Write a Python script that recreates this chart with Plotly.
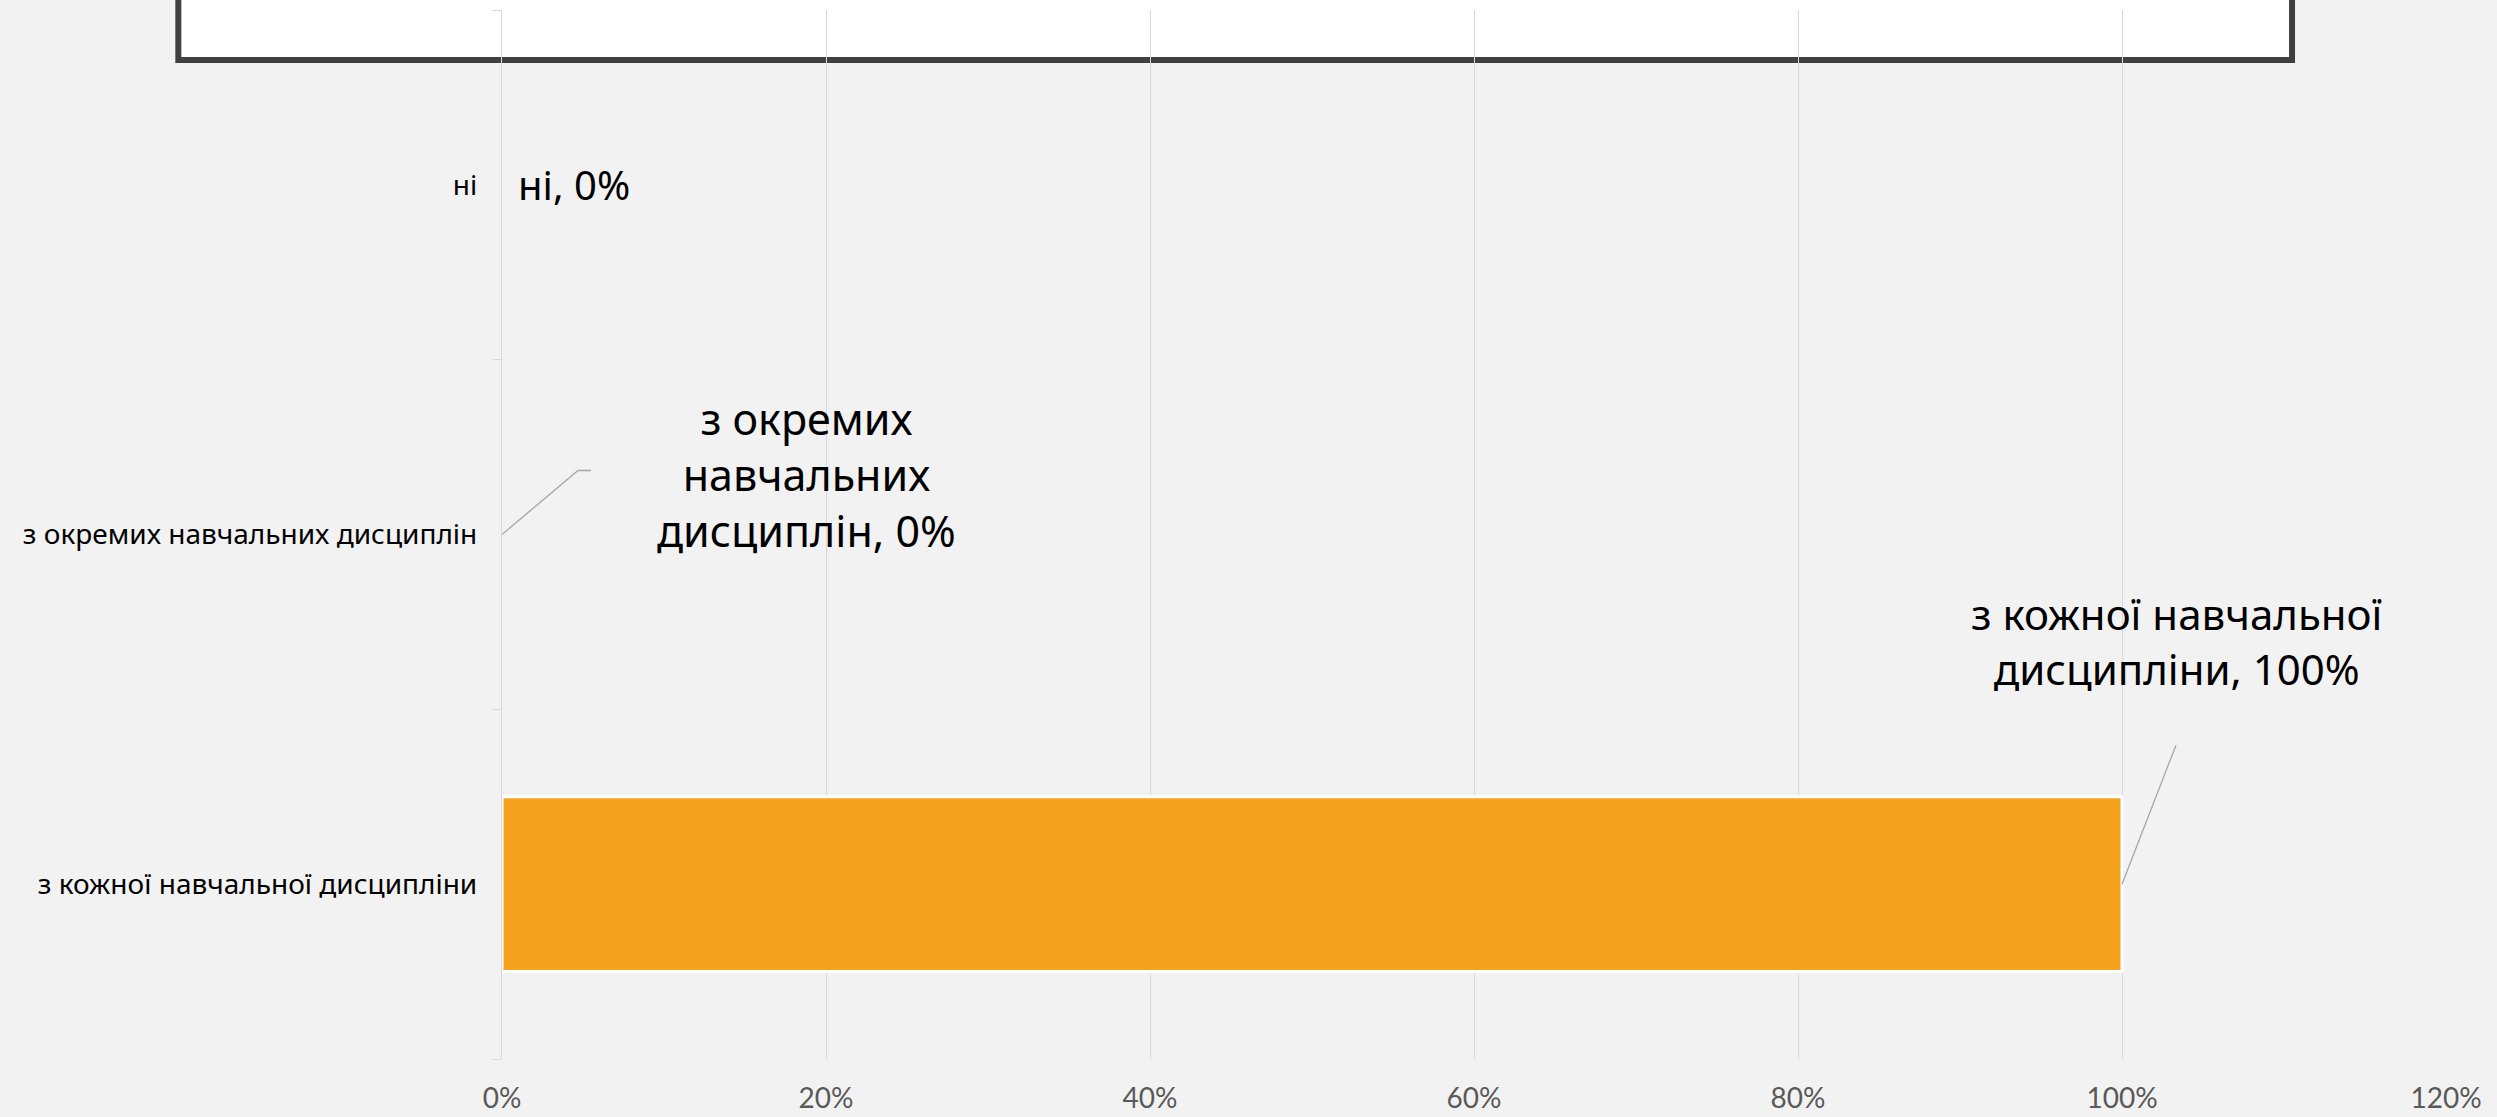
import plotly.graph_objects as go

# ---- data (top-to-bottom order as shown) ----
categories = ["ні", "з окремих навчальних дисциплін", "з кожної навчальної дисципліни"]
values = [0.0, 0.0, 1.0]
label_names = ["ні", "з окремих<br>навчальних<br>дисциплін", "з кожної навчальної<br>дисципліни"]
x_ticks = [0, 0.2, 0.4, 0.6, 0.8, 1.0, 1.2]

BAR_COLOR = "#F5A31E"
GRID = "#D9D9D9"
BG = "#F2F2F2"

fig = go.Figure()
fig.add_trace(go.Bar(
    y=categories, x=values, orientation="h",
    marker=dict(color=BAR_COLOR,
                line=dict(color="white", width=[3 if v > 0 else 0 for v in values])),
    width=0.5, hoverinfo="skip",
))

# data labels (annotation text built from data)
offsets = {  # (xshift, yshift, xanchor, size) in pixels
    0: (14, 0, "left", 40),
    1: (304, 60, "center", 43),
    2: (54, 243, "center", 42),
}
for i, (cat, val, name) in enumerate(zip(categories, values, label_names)):
    xs, ys, xa, fs = offsets[i]
    fig.add_annotation(
        x=val, y=cat, xref="x", yref="y",
        text=f"{name}, {val:.0%}", showarrow=False,
        xanchor=xa, yanchor="middle", align="center",
        xshift=xs, yshift=ys,
        font=dict(family="Noto Sans", size=fs, color="#000000"),
    )

# leader lines (pixel paths anchored at data points)
leaders = {1: "M0,0 L76,64 L89,64", 2: "M0,0 L54,139"}
for i, path in leaders.items():
    fig.add_shape(
        type="path", xref="x", yref="y",
        xsizemode="pixel", ysizemode="pixel",
        xanchor=values[i], yanchor=categories[i],
        path=path, line=dict(color="#A6A6A6", width=1.3),
    )

# title-box remnant at top
fig.add_shape(
    type="rect", xref="paper", yref="paper",
    x0=-0.1665, x1=0.9208, y0=0.9523, y1=1.08,
    fillcolor="white", line=dict(color="#404040", width=6), layer="below",
)

fig.update_layout(
    width=2497, height=1117,
    margin=dict(l=502, r=51, t=10, b=58),
    paper_bgcolor=BG, plot_bgcolor="rgba(0,0,0,0)",
    showlegend=False, bargap=0.5,
    xaxis=dict(
        range=[0, 1.2], tickvals=x_ticks, tickformat=".0%",
        showgrid=True, gridcolor=GRID, gridwidth=1.3,
        zeroline=False, showline=False, ticks="",
        ticklabelstandoff=20, automargin=False,
        tickfont=dict(family="Lato", size=28, color="#595959"),
    ),
    yaxis=dict(
        type="category", categoryorder="array", categoryarray=categories[::-1],
        tickson="boundaries", ticks="outside", ticklen=9, tickcolor=GRID, tickwidth=1.3,
        showgrid=False, showline=True, linecolor=GRID, linewidth=1.3,
        zeroline=False, ticklabelstandoff=18, automargin=False,
        tickfont=dict(family="Noto Sans", size=28, color="#000000"),
    ),
)

fig.write_html(
    "out.html",
    config={"displayModeBar": False},
    post_script="document.body.style.margin='0';document.body.style.background='#F2F2F2';",
)
